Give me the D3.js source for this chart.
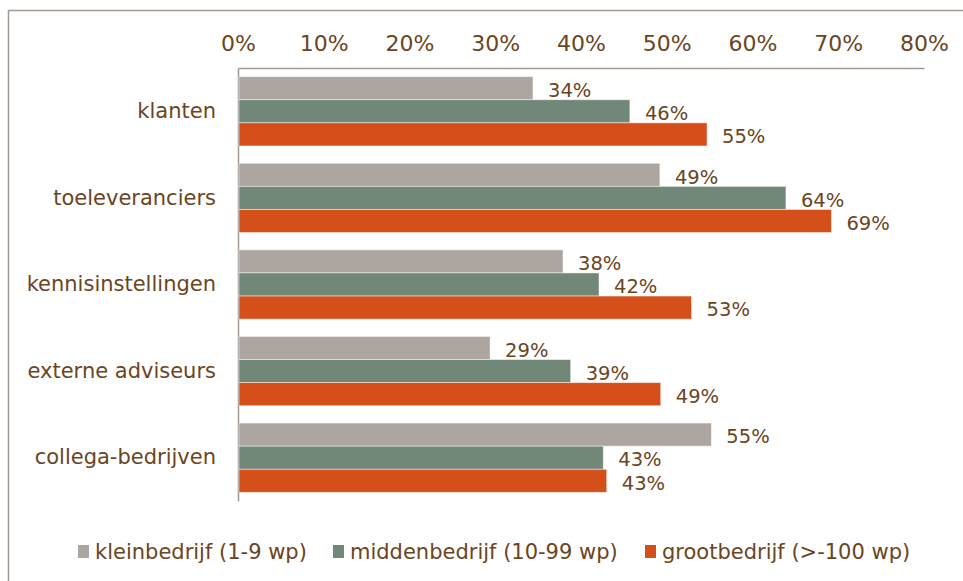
<!DOCTYPE html>
<html>
<head>
<meta charset="utf-8">
<script src="https://cdn.jsdelivr.net/npm/d3@7"></script>
<style>
  body { margin: 0; background: #fff; }
  svg text { font-family: "DejaVu Sans", Verdana, sans-serif; fill: #6b4522; }
</style>
</head>
<body>
<svg id="chart" width="963" height="581"></svg>
<script>
// data
var categories = ["klanten", "toeleveranciers", "kennisinstellingen", "externe adviseurs", "collega-bedrijven"];
var series = ["kleinbedrijf (1-9 wp)", "middenbedrijf (10-99 wp)", "grootbedrijf (>-100 wp)"];
var klein = [0.344, 0.492, 0.379, 0.294, 0.552];
var midden = [0.457, 0.639, 0.421, 0.388, 0.426];
var groot = [0.547, 0.692, 0.529, 0.493, 0.430];
var tickValues = [0, 0.1, 0.2, 0.3, 0.4, 0.5, 0.6, 0.7, 0.8];
var colors = ["#ada59f", "#718777", "#d44f19"];

var values = [klein, midden, groot];

var svg = d3.select("#chart");
var margin = {top: 68, left: 238, right: 39, bottom: 80};
var width = 963 - margin.left - margin.right;
var height = 581 - margin.top - margin.bottom;

// outer frame
svg.append("rect")
  .attr("x", 8.5).attr("y", 10.5)
  .attr("width", 980).attr("height", 600)
  .attr("fill", "none")
  .attr("stroke", "#a39890")
  .attr("stroke-width", 1.5);

var g = svg.append("g").attr("transform", "translate(" + margin.left + "," + margin.top + ")");

var x = d3.scaleLinear().domain([0, 0.8]).range([0, width]);
var y = d3.scaleBand().domain(categories).range([0, height]).paddingInner(0.2).paddingOuter(0.1);
var y1 = d3.scaleBand().domain(d3.range(series.length)).range([0, y.bandwidth()]);

// top axis
var xAxis = g.append("g")
  .call(d3.axisTop(x).tickValues(tickValues).tickFormat(d3.format(".0%")).tickSize(0).tickPadding(10));
xAxis.select(".domain").attr("stroke", "#a39890").attr("stroke-width", 1.5);
xAxis.selectAll("text").attr("font-size", 22).attr("fill", "#6b4522").attr("dy", "-0.3em");

// left axis line + category labels
var yAxis = g.append("g").call(d3.axisLeft(y).tickSize(0).tickPadding(22));
yAxis.select(".domain").attr("stroke", "#a39890").attr("stroke-width", 1.5);
yAxis.selectAll("text").attr("font-size", 21).attr("fill", "#6b4522");

var groups = g.selectAll(".grp")
  .data(categories)
  .enter().append("g")
  .attr("class", "grp")
  .attr("transform", function(d) { return "translate(0," + y(d) + ")"; });

groups.each(function(cat, ci) {
  var rows = series.map(function(s, si) { return {si: si, v: values[si][ci]}; });
  var sel = d3.select(this);
  sel.selectAll("rect")
    .data(rows)
    .enter().append("rect")
    .attr("x", 1)
    .attr("y", function(d) { return y1(d.si); })
    .attr("width", function(d) { return x(d.v) - 1; })
    .attr("height", y1.bandwidth())
    .attr("fill", function(d) { return colors[d.si]; })
    .attr("stroke", "#fff")
    .attr("stroke-opacity", 0.6)
    .attr("stroke-width", 0.8);
  sel.selectAll("text.lbl")
    .data(rows)
    .enter().append("text")
    .attr("class", "lbl")
    .attr("x", function(d) { return x(d.v) + 15; })
    .attr("y", function(d) { return y1(d.si) + y1.bandwidth() / 2; })
    .attr("dy", "0.45em")
    .attr("font-size", 19.5)
    .text(function(d) { return d3.format(".0%")(d.v); });
});

// legend
var legendX = [78, 333, 645];
var legend = svg.selectAll(".leg")
  .data(series)
  .enter().append("g")
  .attr("class", "leg")
  .attr("transform", function(d, i) { return "translate(" + legendX[i] + ",545)"; });
legend.append("rect")
  .attr("width", 11).attr("height", 13)
  .attr("fill", function(d, i) { return colors[i]; });
legend.append("text")
  .attr("x", 17).attr("y", 14)
  .attr("font-size", 21)
  .text(function(d) { return d; });
</script>
</body>
</html>
